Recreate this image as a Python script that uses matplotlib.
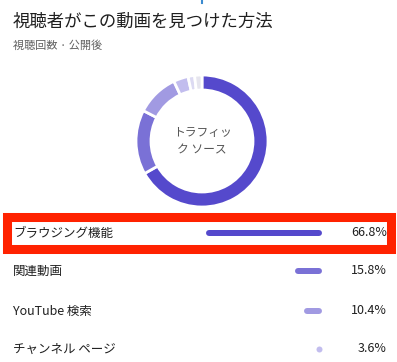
import matplotlib
matplotlib.use('Agg')
import matplotlib.pyplot as plt
from matplotlib.patches import Rectangle

plt.rcParams['font.family'] = ['Noto Sans CJK JP', 'DejaVu Sans']

# Data
title = '視聴者がこの動画を見つけた方法'
subtitle = '視聴回数 · 公開後'
center_label = 'トラフィッ\nク ソース'
sources = ['ブラウジング機能', '関連動画', 'YouTube 検索', 'チャンネル ページ']
shares = [66.8, 15.8, 10.4, 3.6]
other_shares = [1.6, 1.8]  # small unlabeled slices in the ring
colors = ['#5549cc', '#7a71d6', '#a19ae2', '#c2bdee']
other_colors = ['#dcdaf2', '#e6e5ee']

W, H = 397, 362
fig = plt.figure(figsize=(W / 100, H / 100), dpi=100)
ax = fig.add_axes([0, 0, 1, 1])
ax.set_xlim(0, W)
ax.set_ylim(H, 0)
ax.axis('off')

# Titles
ax.text(13, 22, title, fontsize=12.5, color='#1f1f1f', va='center', ha='left')
ax.text(13, 46, subtitle, fontsize=8, color='#606060', va='center', ha='left')

# tiny blue mark at top
ax.plot([202, 202], [0, 2.5], color='#3b8bd0', lw=1.5)

# Donut
cx, cy, R = 202, 141, 66
pad = 72
axd = fig.add_axes([(cx - pad) / W, (H - cy - pad) / H, 2 * pad / W, 2 * pad / H])
axd.pie(shares + other_shares, colors=colors + other_colors, radius=R,
        startangle=90, counterclock=False,
        wedgeprops=dict(width=15, edgecolor='white', linewidth=2))
axd.set_xlim(-pad, pad)
axd.set_ylim(-pad, pad)
axd.set_aspect('equal')
axd.axis('off')
axd.text(0, 0, center_label, ha='center', va='center', fontsize=8.5,
         color='#555555', linespacing=1.4)

# Rows
row_y = [233, 271, 311, 349]
bar_right = 322
bar_max_len = 116
bar_lw_px = 6
scale = bar_max_len / max(shares)
for name, v, c, y in zip(sources, shares, colors, row_y):
    ax.text(13, y, name, fontsize=9, color='#202020', va='center', ha='left')
    ax.text(387, y, f'{v:.1f}%', fontsize=9, color='#202020', va='center', ha='right')
    L = v * scale
    x1 = bar_right - bar_lw_px / 2
    x0 = bar_right - L + bar_lw_px / 2
    if x1 - x0 < 1:
        ax.scatter([x1], [y], s=(bar_lw_px * 0.72) ** 2, color=c,
                   linewidths=0, zorder=3)
    else:
        ax.plot([x0, x1], [y, y], color=c, lw=bar_lw_px * 0.72,
                solid_capstyle='round')

# Red highlight box
ax.add_patch(Rectangle((7, 216.5), 384, 32.5, fill=False,
                       edgecolor='#ff2200', linewidth=6.5))

fig.savefig('out.png', dpi=100)
